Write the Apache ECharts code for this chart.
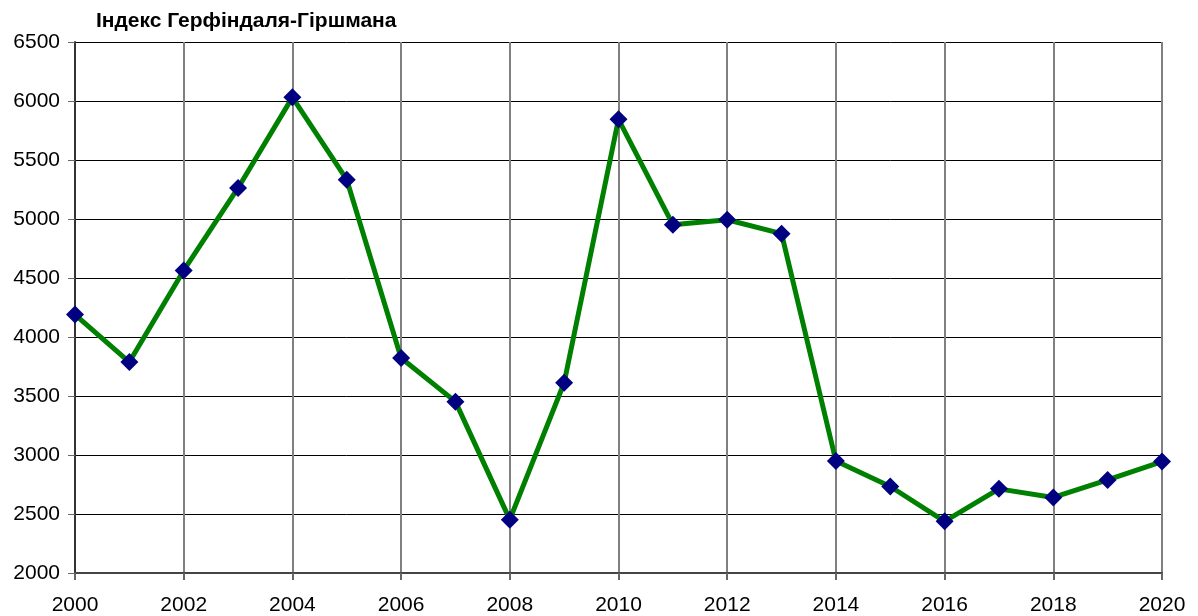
<!DOCTYPE html>
<html>
<head>
<meta charset="utf-8">
<script src="https://cdn.jsdelivr.net/npm/echarts@6/dist/echarts.min.js"></script>
<style>
  html, body { margin: 0; padding: 0; background: #fff; }
  #chart { width: 1198px; height: 616px; }
</style>
</head>
<body>
<div id="chart"></div>
<script>
// роки та значення індексу
const years = [2000, 2001, 2002, 2003, 2004, 2005, 2006, 2007, 2008, 2009, 2010,
  2011, 2012, 2013, 2014, 2015, 2016, 2017, 2018, 2019, 2020]
const hhi = [4190, 3788, 4564, 5263, 6031, 5333, 3822, 3452, 2452, 3612, 5845,
  4952, 4994, 4876, 2949, 2733, 2438, 2713, 2640, 2789, 2944]
const titleText = 'Індекс Герфіндаля-Гіршмана'

const myChart = echarts.init(document.getElementById('chart'))
const option = {
  animation: false,
  title: {
    text: titleText,
    left: 91,
    top: 6,
    textStyle: {
      fontFamily: 'Liberation Sans, Arial, sans-serif',
      fontSize: 21,
      fontWeight: 'bold',
      color: '#000'
    }
  },
  grid: {
    left: 75,
    right: 36,
    top: 42,
    bottom: 43,
    containLabel: false
  },
  xAxis: {
    type: 'value',
    min: 2000,
    max: 2020,
    interval: 2,
    axisLine: { lineStyle: { color: '#444', width: 2 } },
    axisTick: { show: true, length: 7, lineStyle: { color: '#666', width: 2 } },
    axisLabel: {
      margin: 22,
      fontSize: 21,
      color: '#000',
      fontFamily: 'Liberation Sans, Arial, sans-serif',
      formatter: v => String(v)
    },
    splitLine: { show: true, lineStyle: { color: '#808080', width: 2 } }
  },
  yAxis: {
    type: 'value',
    min: 2000,
    max: 6500,
    interval: 500,
    axisLine: { show: true, lineStyle: { color: '#333', width: 2 } },
    axisTick: { show: true, length: 7, lineStyle: { color: '#666', width: 1 } },
    axisLabel: {
      margin: 15,
      fontSize: 21,
      color: '#000',
      fontFamily: 'Liberation Sans, Arial, sans-serif',
      formatter: v => String(v)
    },
    splitLine: { show: true, lineStyle: { color: '#000', width: 1 } }
  },
  series: [
    {
      type: 'line',
      data: years.map((y, i) => [y, hhi[i]]),
      symbol: 'diamond',
      symbolSize: 18,
      lineStyle: { color: '#008000', width: 5 },
      itemStyle: { color: '#000080' },
      z: 3
    }
  ]
}
myChart.setOption(option)
</script>
</body>
</html>
